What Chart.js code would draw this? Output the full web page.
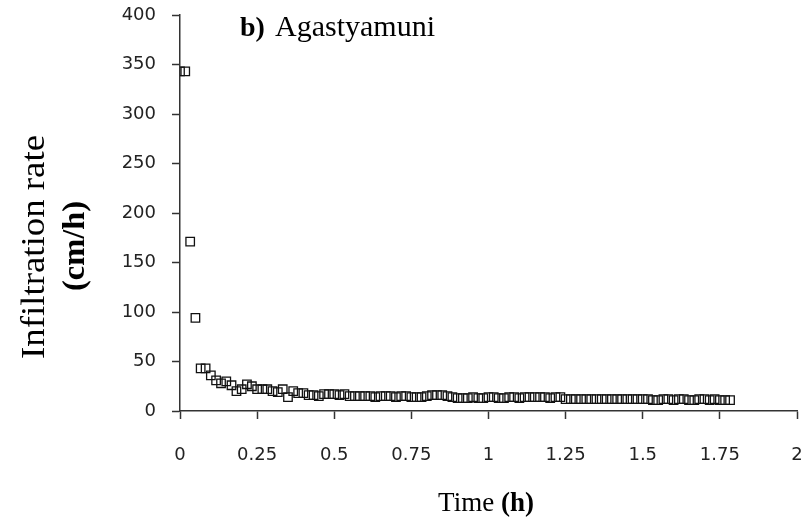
<!DOCTYPE html>
<html><head><meta charset="utf-8">
<script src="https://cdn.jsdelivr.net/npm/chart.js@4"></script>
<style>html,body{margin:0;padding:0;background:#fff}#wrap{width:807px;height:528px}</style>
</head><body><div id="wrap"><canvas id="c" width="807" height="528"></canvas></div>
<script>
const timeH = [0, 0.017, 0.033, 0.05, 0.067, 0.083, 0.1, 0.117, 0.133, 0.15, 0.167, 0.183, 0.2, 0.217, 0.233, 0.25, 0.267, 0.283, 0.3, 0.317, 0.333, 0.35, 0.367, 0.383, 0.4, 0.417, 0.433, 0.45, 0.467, 0.483, 0.5, 0.517, 0.533, 0.55, 0.567, 0.583, 0.6, 0.617, 0.633, 0.65, 0.667, 0.683, 0.7, 0.717, 0.733, 0.75, 0.767, 0.783, 0.8, 0.817, 0.833, 0.85, 0.867, 0.883, 0.9, 0.917, 0.933, 0.95, 0.967, 0.983, 1, 1.017, 1.033, 1.05, 1.067, 1.083, 1.1, 1.117, 1.133, 1.15, 1.167, 1.183, 1.2, 1.217, 1.233, 1.25, 1.267, 1.283, 1.3, 1.317, 1.333, 1.35, 1.367, 1.383, 1.4, 1.417, 1.433, 1.45, 1.467, 1.483, 1.5, 1.517, 1.533, 1.55, 1.567, 1.583, 1.6, 1.617, 1.633, 1.65, 1.667, 1.683, 1.7, 1.717, 1.733, 1.75, 1.767, 1.783];
const infRate = [343, 343, 171, 94, 43, 43, 36, 31, 28, 30, 26, 20, 22, 27, 25, 22, 22, 22, 20, 19, 22, 14, 20, 18, 18, 16, 16, 15, 17, 17, 17, 16, 17, 15, 15, 15, 15, 15, 14, 15, 15, 15, 14, 15, 15, 14, 14, 14, 15, 16, 16, 16, 15, 14, 13, 13, 13, 14, 13, 13, 14, 14, 13, 13, 14, 14, 13, 14, 14, 14, 14, 14, 13, 14, 14, 12, 12, 12, 12, 12, 12, 12, 12, 12, 12, 12, 12, 12, 12, 12, 12, 12, 11, 11, 12, 12, 11, 12, 12, 11, 11, 12, 12, 11, 12, 11, 11, 11];
const xTickLabels = ['0', '0.25', '0.5', '0.75', '1', '1.25', '1.5', '1.75', '2'];
const yTickLabels = ['0', '50', '100', '150', '200', '250', '300', '350', '400'];
const panelTag = 'b)';
const siteName = 'Agastyamuni';
const yTitleLines = ['Infiltration rate', '(cm/h)'];
const xTitleParts = ['Time ', '(h)'];

const points = timeH.map((t, i) => ({x: t, y: infRate[i]}));

function vertText(ctx, text, font, baseX, cy, targetLen) {
  ctx.save();
  ctx.font = font;
  const w = ctx.measureText(text).width;
  const s = targetLen / w;
  ctx.translate(baseX, cy);
  ctx.rotate(-Math.PI / 2);
  ctx.scale(s, 1);
  ctx.textAlign = 'center';
  ctx.textBaseline = 'alphabetic';
  ctx.fillStyle = '#000';
  ctx.fillText(text, 0, 0);
  ctx.restore();
}

const textPlugin = {
  id: 'texts',
  afterDraw(chart) {
    const ctx = chart.ctx;
    vertText(ctx, yTitleLines[0], '33px "Liberation Serif"', 44, 247, 224);
    vertText(ctx, yTitleLines[1], 'bold 31px "Liberation Serif"', 84, 246, 90);
    ctx.save();
    ctx.fillStyle = '#000';
    ctx.textBaseline = 'alphabetic';
    ctx.textAlign = 'left';
    ctx.font = 'bold 28px "Liberation Serif"';
    ctx.fillText(panelTag, 240, 36);
    ctx.font = '30px "Liberation Serif"';
    ctx.fillText(siteName, 275, 36);
    ctx.font = '27px "Liberation Serif"';
    const w1 = ctx.measureText(xTitleParts[0]).width;
    ctx.font = 'bold 27px "Liberation Serif"';
    const w2 = ctx.measureText(xTitleParts[1]).width;
    const x0 = 486 - (w1 + w2) / 2;
    ctx.font = '27px "Liberation Serif"';
    ctx.fillText(xTitleParts[0], x0, 511);
    ctx.font = 'bold 27px "Liberation Serif"';
    ctx.fillText(xTitleParts[1], x0 + w1, 511);
    ctx.restore();
  }
};

function zeroPad(s) { s.paddingLeft = 0; s.paddingRight = 0; s.paddingTop = 0; s.paddingBottom = 0; }

new Chart(document.getElementById('c'), {
  type: 'scatter',
  data: {
    datasets: [{
      data: points,
      pointStyle: 'rect',
      pointRadius: 6,
      pointBorderWidth: 1.3,
      pointBorderColor: '#111',
      pointBackgroundColor: 'rgba(0,0,0,0)',
      showLine: false
    }]
  },
  options: {
    responsive: false,
    animation: false,
    devicePixelRatio: 1,
    layout: {padding: {top: 15, right: 10, left: 0, bottom: 0}},
    plugins: {legend: {display: false}, tooltip: {enabled: false}},
    scales: {
      x: {
        type: 'linear', min: 0, max: 2,
        afterFit: s => { s.height = 117; zeroPad(s); },
        afterBuildTicks: s => { s.ticks = xTickLabels.map(v => ({value: parseFloat(v)})); },
        ticks: {
          callback: (v) => xTickLabels.find(l => parseFloat(l) === v) ?? '',
          font: {family: '"DejaVu Sans"', size: 18}, color: '#222', padding: 26, maxRotation: 0, autoSkip: false
        },
        grid: {drawOnChartArea: false, drawTicks: true, tickLength: 8, color: '#333', tickWidth: 1.5},
        border: {display: true, color: '#333', width: 1.5}
      },
      y: {
        type: 'linear', min: 0, max: 400,
        afterFit: s => { s.width = 180; zeroPad(s); },
        afterBuildTicks: s => { s.ticks = yTickLabels.map(v => ({value: parseFloat(v)})); },
        ticks: {
          callback: (v) => yTickLabels.find(l => parseFloat(l) === v) ?? '',
          font: {family: '"DejaVu Sans"', size: 18}, color: '#222', padding: 16, autoSkip: false
        },
        grid: {drawOnChartArea: false, drawTicks: true, tickLength: 8, color: '#333', tickWidth: 1.5},
        border: {display: true, color: '#333', width: 1.5}
      }
    }
  },
  plugins: [textPlugin]
});
</script></body></html>
